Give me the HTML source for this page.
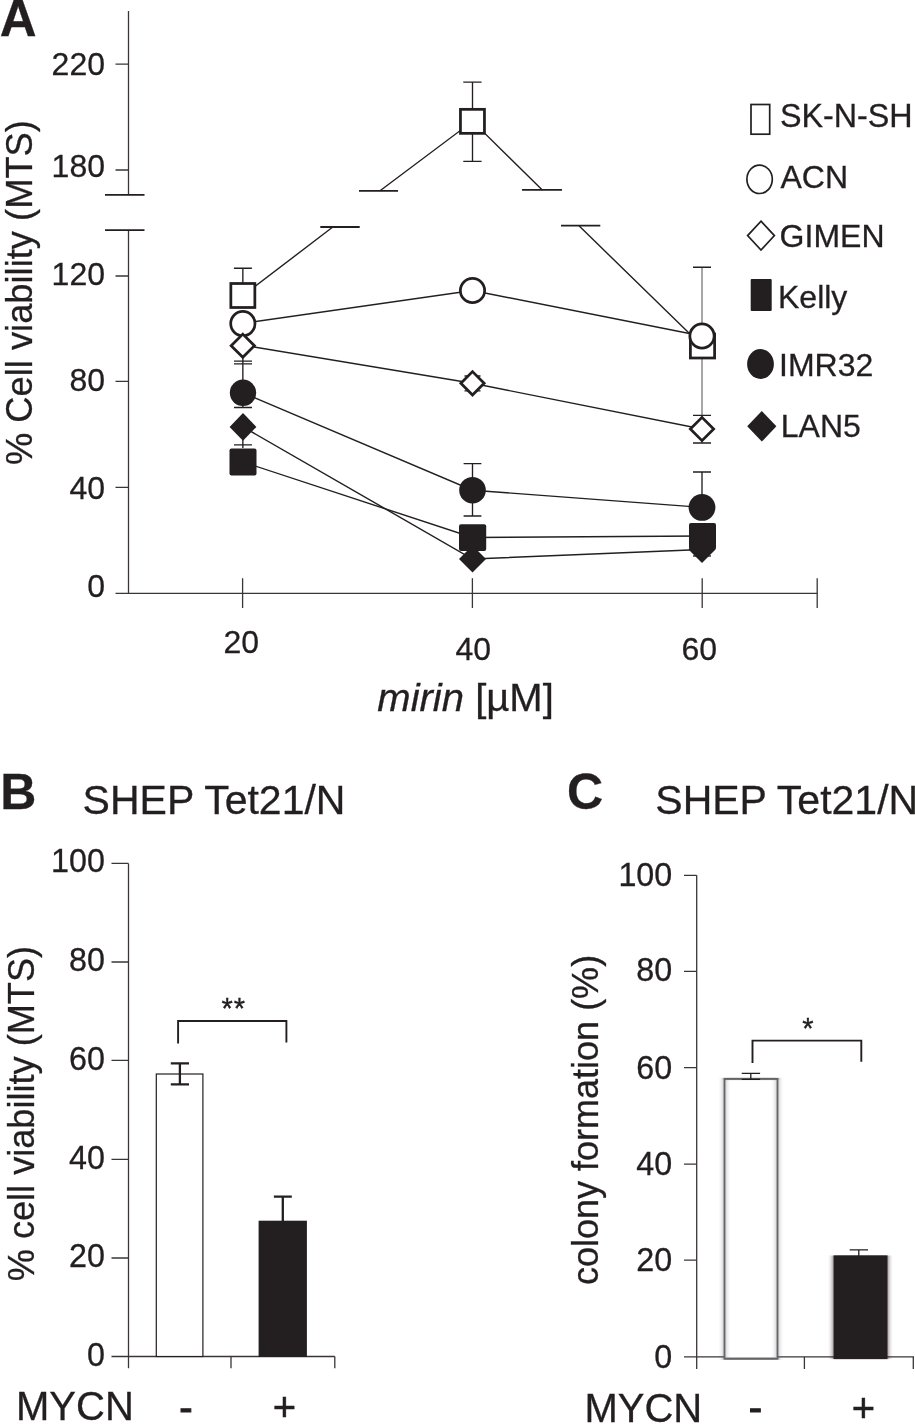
<!DOCTYPE html>
<html lang="en">
<head>
<meta charset="utf-8">
<title>Figure</title>
<style>
html,body{margin:0;padding:0;background:#fff;}
body{width:915px;height:1424px;overflow:hidden;}
svg{display:block;will-change:transform;transform:translateZ(0);}
text{font-family:"Liberation Sans",Arial,Helvetica,sans-serif;fill:#231f20;stroke:#231f20;stroke-width:0.3px;}
.b{font-weight:bold;font-size:50px;}
.t{font-size:32px;}
.tk{font-size:32.3px;}
.l{font-size:36px;}
.h{font-size:40px;}
.ln{stroke:#231f20;stroke-width:1.4;fill:none;}
.ax{stroke:#3a3637;stroke-width:1.3;fill:none;}
.eb{stroke:#231f20;stroke-width:1.35;fill:none;}
.bk{stroke:#231f20;stroke-width:1.8;fill:none;}
.om{stroke:#231f20;stroke-width:2.75;fill:#fff;}
.fm{stroke:none;fill:#231f20;}
.lg{stroke:#231f20;stroke-width:1.7;fill:#fff;}
</style>
</head>
<body>
<svg width="915" height="1424" viewBox="0 0 915 1424">
<rect width="915" height="1424" fill="#fff"/>

<!-- ================= PANEL A ================= -->
<g id="panelA">
<text class="b" x="-0.3" y="36.3" style="font-size:51px">A</text>
<text class="l" transform="translate(32,465) rotate(-90)" style="font-size:36.3px">% Cell viability (MTS)</text>

<!-- axes -->
<path class="ax" d="M128.5 11V194.8M128.5 230.2V593.2M115.5 593.3H817.5"/>
<path class="ax" d="M115.5 64.2H128.5M115.5 170H128.5M115.5 276H128.5M115.5 381.4H128.5M115.5 487.3H128.5"/>
<path class="bk" d="M105 194.8H144.5M105 230.2H144.5"/>
<path class="ax" d="M242.6 578.3V608M472.4 578.3V608M702.2 578.3V608M817.2 578.3V608"/>
<g class="t" text-anchor="end">
<text x="105" y="74.5">220</text>
<text x="105" y="176.5">180</text>
<text x="105" y="284.6">120</text>
<text x="105" y="391.4">80</text>
<text x="105" y="498.5">40</text>
<text x="105" y="597">0</text>
</g>
<g class="t" text-anchor="middle">
<text x="241.3" y="652.8">20</text>
<text x="473.2" y="660">40</text>
<text x="699.2" y="660">60</text>
</g>

<!-- data lines -->
<g class="ln">
<path d="M243 295.6L332.8 227M379.7 191L472.6 121.3L542.3 190M579 225.8L702.3 346"/>
<path d="M243 323.3L472.5 290.5L702 336"/>
<path d="M243 345.2L472.5 383.3L702 429"/>
<path d="M243 392.8L472.5 490.2L702 507.4"/>
<path d="M243 426.9L472.5 559L702 549.5"/>
<path d="M243 462L472.5 537.5L702 536"/>
</g>
<!-- break marks on SK-N-SH line -->
<path class="bk" d="M320.3 227H359.7M359 190.8H398M522 189.8H562M561 225.6H600.3"/>
<!-- error bars -->
<g class="eb">
<path d="M242.85 268.2V284M233.9 268.2H251.9"/>
<path d="M472.5 82.1V161.4M463.3 82.1H481.6M463.3 161.4H481.6"/>
<path d="M242.85 346V392M234 361.1H252M234 363.8H252M234 407.5H252M242.85 400V408M242.85 436V448M234 444.9H252"/>
<path d="M472.5 376V391M464.5 376H480.5M464.5 390.8H480.5"/>
<path d="M472.5 463.6V516M463.6 463.6H481.4M463.6 516H481.4"/>
<path d="M702 472V500M693 472H711"/>
<path d="M693 556H711"/>
</g>
<path d="M702 267V443" stroke="#77787b" stroke-width="1.3" fill="none"/><path class="eb" d="M693 267.2H711M693 415.4H711M693 443H711"/>
<!-- markers 20 -->
<rect class="om" x="230.85" y="283.5" width="24" height="24"/>
<circle class="om" cx="242.85" cy="323.6" r="12.15"/>
<path class="om" d="M242.8 334.1L254.45 345.7L242.8 357.3L231.15 345.7Z"/>
<circle class="fm" cx="243" cy="392.8" r="13.2"/>
<path class="fm" d="M243 413L256.4 426.9L243 440.8L229.6 426.9Z"/>
<rect class="fm" x="229.5" y="448.5" width="27" height="27" rx="2"/>
<!-- markers 40 -->
<rect class="om" x="460.45" y="109.35" width="24" height="24"/>
<circle class="om" cx="472.5" cy="290.5" r="12.15"/>
<path class="om" d="M472.5 371.65L484.15 383.3L472.5 394.95L460.85 383.3Z"/>
<circle class="fm" cx="472.5" cy="490.2" r="13.3"/>
<path class="fm" d="M472.5 545.5L486 559L472.5 572.5L459 559Z"/>
<rect class="fm" x="459" y="524.3" width="27.2" height="26.6" rx="2"/>
<!-- markers 60 -->
<rect class="om" x="690.4" y="334" width="24.2" height="24"/>
<circle class="om" cx="702" cy="336" r="12.15"/>
<path class="om" d="M702 417.35L713.65 429L702 440.65L690.35 429Z"/>
<circle class="fm" cx="702" cy="507.4" r="13.4"/>
<path class="fm" d="M702 536L715.5 549.5L702 563L688.5 549.5Z"/>
<rect class="fm" x="689" y="523" width="27" height="26.8" rx="2"/>

<!-- legend -->
<rect class="lg" x="751" y="104.5" width="18.7" height="29.7"/>
<ellipse class="lg" cx="759.6" cy="179.3" rx="12.7" ry="14.2"/>
<path class="lg" d="M761 221.2L774.4 235.6L761 250L747.6 235.6Z"/>
<rect class="fm" x="750.7" y="279" width="21" height="31.9" rx="1"/>
<ellipse class="fm" cx="760.5" cy="364" rx="13.4" ry="14.9"/>
<path class="fm" d="M761.8 411L776.4 426.3L761.8 441.6L747.2 426.3Z"/>
<g class="t">
<text x="779.9" y="127.3" style="font-size:32.3px">SK-N-SH</text>
<text x="780.5" y="187.9">ACN</text>
<text x="779.6" y="246.9">GIMEN</text>
<text x="778" y="307.9">Kelly</text>
<text x="779" y="376.3">IMR32</text>
<text x="780.8" y="437.3">LAN5</text>
</g>
<text class="l" transform="translate(377.3,711.3) scale(1.04,1)" style="font-size:38.5px"><tspan font-style="italic">mirin</tspan> [µM]</text>
</g>

<!-- ================= PANEL B ================= -->
<g id="panelB">
<text class="b" x="0.3" y="808.6">B</text>
<text class="h" x="82.6" y="814" style="font-size:41px">SHEP Tet21/N</text>
<text class="l" transform="translate(33.8,1281.3) rotate(-90)" style="font-size:36.15px">% cell viability (MTS)</text>
<path class="ax" d="M128.5 863.4V1368.3M111.5 1356.5H334.8M231 1356.5V1368.3M334.8 1356.5V1368.3"/>
<path class="ax" d="M111.5 863.4H128.5M111.5 962H128.5M111.5 1060.4H128.5M111.5 1159.3H128.5M111.5 1258H128.5"/>
<g class="t tk" text-anchor="end">
<text x="105" y="872.3">100</text>
<text x="105" y="970.7">80</text>
<text x="105" y="1069.8">60</text>
<text x="105" y="1168.5">40</text>
<text x="105" y="1267.3">20</text>
<text x="105" y="1365.9">0</text>
</g>
<rect x="156.3" y="1074" width="46.6" height="282.5" fill="#fff" stroke="#231f20" stroke-width="1.2"/>
<rect x="258.6" y="1220.7" width="48.3" height="136.3" fill="#231f20"/>
<path d="M179.9 1063.3V1084.4M170.8 1063.3H189M170.8 1084.4H189" stroke="#231f20" stroke-width="2.3" fill="none"/>
<path d="M282.8 1196.6V1222M273.9 1196.6H291.8" stroke="#231f20" stroke-width="2.3" fill="none"/>
<path d="M178.1 1043.6V1021H286.4V1042.6" stroke="#231f20" stroke-width="1.9" fill="none"/>
<text class="t" x="233.8" y="1017.6" text-anchor="middle" style="stroke-width:0.35px;font-size:29px;letter-spacing:1px">**</text>
<text class="h" x="16" y="1420">MYCN</text>
<text class="h" x="186" y="1421.2" text-anchor="middle" style="stroke-width:1.1px">-</text>
<text class="h" x="284.5" y="1421.2" text-anchor="middle" style="stroke-width:0.5px">+</text>
</g>

<!-- ================= PANEL C ================= -->
<g id="panelC">
<text class="b" x="567" y="809">C</text>
<text class="h" x="655.3" y="814.3" style="font-size:41px">SHEP Tet21/N</text>
<text class="l" transform="translate(598.4,1285) rotate(-90)">colony formation (%)</text>
<path class="ax" d="M696.7 875.3V1369M684 1356.9H914M804.4 1356.9V1369M913.3 1356.9V1369"/>
<path class="ax" d="M684 875.3H696.7M684 971.3H696.7M684 1067.6H696.7M684 1164.2H696.7M684 1260.2H696.7"/>
<g class="t tk" text-anchor="end">
<text x="672.3" y="886">100</text>
<text x="672.3" y="981.4">80</text>
<text x="672.3" y="1078.8">60</text>
<text x="672.3" y="1175.3">40</text>
<text x="672.3" y="1271.1">20</text>
<text x="672.3" y="1368">0</text>
</g>
<defs><filter id="hz" x="-30%" y="-5%" width="160%" height="110%"><feGaussianBlur stdDeviation="2.1 0.4"/></filter></defs>
<rect x="724.5" y="1078.9" width="53" height="279.8" fill="#fff"/>
<g filter="url(#hz)" opacity="0.6"><rect x="724.5" y="1078.9" width="53" height="279.8" fill="none" stroke="#58595b" stroke-width="2.4"/><rect x="832.6" y="1255.5" width="55.8" height="103.6" fill="#231f20"/></g>
<rect x="724.5" y="1078.9" width="53" height="279.8" fill="none" stroke="#636466" stroke-width="1.8"/>
<rect x="833.6" y="1255.4" width="53.9" height="103.7" fill="#231f20"/>
<path d="M750.8 1073.3V1079.3M741.7 1073.3H760.1M741.7 1079.3H760.1" stroke="#231f20" stroke-width="1.3" fill="none"/>
<path d="M858.8 1249.8V1256M849.7 1249.8H868" stroke="#231f20" stroke-width="1.3" fill="none"/>
<path d="M752.5 1063V1040.6H861.3V1061.7" stroke="#231f20" stroke-width="1.9" fill="none"/>
<text class="t" x="807.8" y="1038" text-anchor="middle" style="stroke-width:0.35px;font-size:29px">*</text>
<text class="h" x="584.4" y="1421.5">MYCN</text>
<text class="h" x="755.3" y="1420.8" text-anchor="middle" style="stroke-width:1.1px">-</text>
<text class="h" x="863.5" y="1421.7" text-anchor="middle" style="stroke-width:0.5px">+</text>
</g>
</svg>
</body>
</html>
